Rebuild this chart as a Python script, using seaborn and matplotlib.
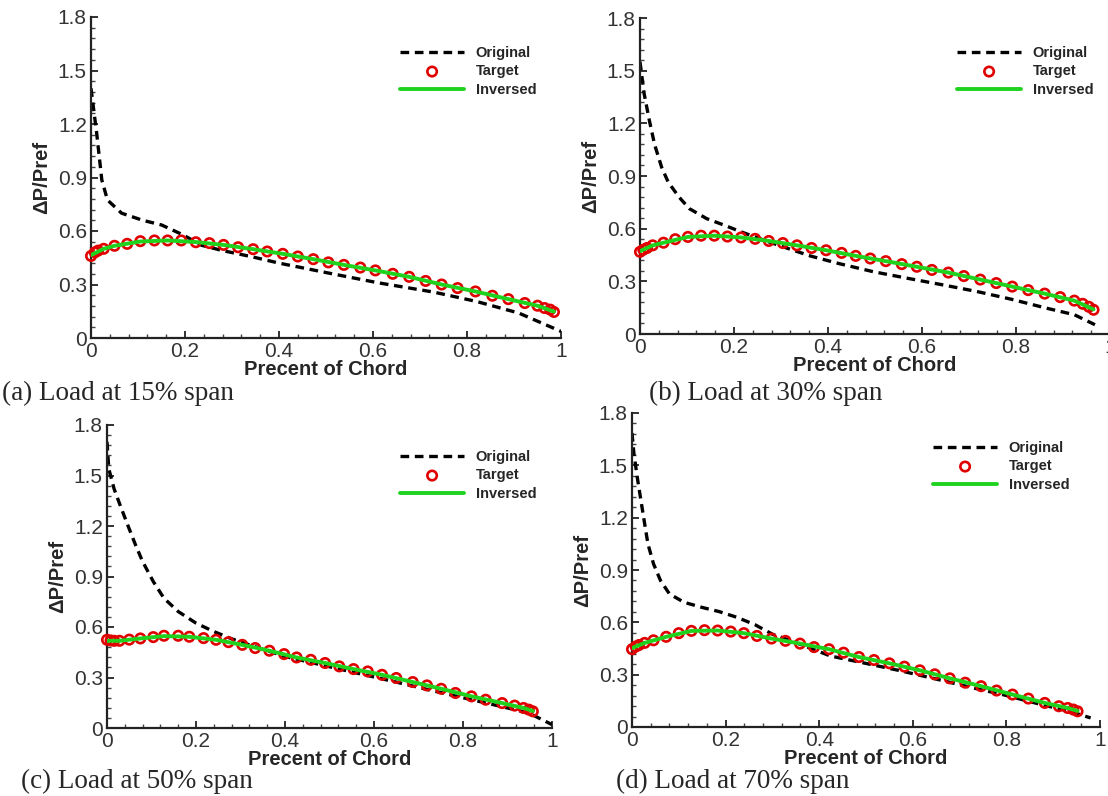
import numpy as np
import pandas as pd
import matplotlib
matplotlib.use("Agg")
import matplotlib.pyplot as plt
import seaborn as sns
from matplotlib.ticker import MultipleLocator, FixedLocator

sns.set_theme(style="ticks")
plt.rcParams['font.family'] = ['Liberation Sans', 'DejaVu Sans']

# ---------------- data ----------------
captions = ["(a) Load at 15% span", "(b) Load at 30% span",
            "(c) Load at 50% span", "(d) Load at 70% span"]
series_names = ["Original", "Target", "Inversed"]
x_ticks = [0, 0.2, 0.4, 0.6, 0.8, 1]
x_tick_labels = ["0", "0.2", "0.4", "0.6", "0.8", "1"]
y_ticks = [0, 0.3, 0.6, 0.9, 1.2, 1.5, 1.8]
y_tick_labels = ["0", "0.3", "0.6", "0.9", "1.2", "1.5", "1.8"]

# (a) 15% span
orig_a_x = [0.0, 0.012, 0.023, 0.035, 0.065, 0.11, 0.15, 0.196, 0.235, 0.28, 0.34, 0.40,
            0.50, 0.61, 0.73, 0.82, 0.91, 1.0]
orig_a_y = [1.40, 1.15, 0.886, 0.774, 0.70, 0.66, 0.634, 0.578, 0.52, 0.49, 0.457, 0.42,
            0.367, 0.31, 0.257, 0.205, 0.14, 0.037]
tgt_a_x = [0.0, 0.008, 0.015, 0.027, 0.05, 0.077, 0.105, 0.135, 0.163, 0.192, 0.223, 0.252,
           0.282, 0.313, 0.345, 0.375, 0.408, 0.44, 0.473, 0.505, 0.538, 0.573, 0.605, 0.642,
           0.677, 0.712, 0.746, 0.78, 0.818, 0.854, 0.888, 0.923, 0.950, 0.965, 0.977, 0.985]
tgt_a_y = [0.46, 0.48, 0.49, 0.50, 0.517, 0.528, 0.543, 0.547, 0.547, 0.547, 0.537, 0.532,
           0.522, 0.509, 0.498, 0.485, 0.472, 0.457, 0.442, 0.424, 0.41, 0.395, 0.379, 0.36,
           0.343, 0.32, 0.30, 0.28, 0.261, 0.237, 0.218, 0.196, 0.181, 0.168, 0.159, 0.146]
inv_a_x = [0.0, 0.027, 0.05, 0.105, 0.163, 0.223, 0.282, 0.345, 0.408, 0.473, 0.538, 0.605,
           0.677, 0.746, 0.818, 0.888, 0.950, 0.985]
inv_a_y = [0.465, 0.50, 0.517, 0.541, 0.547, 0.538, 0.522, 0.498, 0.472, 0.442, 0.41, 0.379,
           0.343, 0.30, 0.261, 0.218, 0.181, 0.148]

# (b) 30% span
orig_b_x = [0.0, 0.009, 0.02, 0.031, 0.046, 0.06, 0.083, 0.105, 0.142, 0.179, 0.215, 0.26,
            0.304, 0.363, 0.422, 0.496, 0.57, 0.644, 0.717, 0.79, 0.865, 0.924, 0.968]
orig_b_y = [1.55, 1.366, 1.215, 1.08, 0.95, 0.865, 0.78, 0.714, 0.657, 0.62, 0.582, 0.538,
            0.497, 0.444, 0.402, 0.355, 0.317, 0.28, 0.242, 0.198, 0.147, 0.11, 0.053]
tgt_b_x = [0.0, 0.007, 0.015, 0.027, 0.05, 0.075, 0.102, 0.13, 0.158, 0.186, 0.215, 0.245,
           0.274, 0.304, 0.334, 0.365, 0.396, 0.429, 0.459, 0.49, 0.523, 0.557, 0.589, 0.621,
           0.656, 0.689, 0.724, 0.758, 0.792, 0.826, 0.861, 0.894, 0.924, 0.942, 0.955, 0.965]
tgt_b_y = [0.468, 0.48, 0.49, 0.505, 0.52, 0.54, 0.553, 0.56, 0.56, 0.555, 0.55, 0.542,
           0.53, 0.518, 0.505, 0.49, 0.477, 0.462, 0.445, 0.43, 0.415, 0.398, 0.383, 0.365,
           0.35, 0.33, 0.31, 0.29, 0.27, 0.25, 0.23, 0.21, 0.19, 0.172, 0.155, 0.138]
inv_b_x = [0.0, 0.027, 0.05, 0.102, 0.158, 0.215, 0.274, 0.334, 0.396, 0.459, 0.523, 0.589,
           0.656, 0.724, 0.792, 0.861, 0.924, 0.965]
inv_b_y = [0.472, 0.505, 0.52, 0.553, 0.56, 0.55, 0.53, 0.505, 0.477, 0.445, 0.415, 0.383,
           0.35, 0.31, 0.27, 0.23, 0.19, 0.14]

# (c) 50% span
orig_c_x = [0.0, 0.004, 0.016, 0.032, 0.048, 0.064, 0.08, 0.104, 0.128, 0.16, 0.2, 0.24,
            0.28, 0.32, 0.40, 0.48, 0.562, 0.643, 0.723, 0.803, 0.884, 0.948, 1.0]
orig_c_y = [1.70, 1.54, 1.42, 1.306, 1.196, 1.088, 0.989, 0.87, 0.771, 0.692, 0.623, 0.573,
            0.53, 0.494, 0.425, 0.376, 0.326, 0.277, 0.227, 0.178, 0.129, 0.089, 0.02]
tgt_c_x = [0.0, 0.008, 0.016, 0.028, 0.05, 0.075, 0.104, 0.128, 0.16, 0.185, 0.217, 0.245,
           0.273, 0.304, 0.333, 0.365, 0.398, 0.426, 0.458, 0.49, 0.522, 0.554, 0.586, 0.618,
           0.65, 0.687, 0.719, 0.751, 0.783, 0.819, 0.851, 0.888, 0.916, 0.936, 0.948, 0.957]
tgt_c_y = [0.524, 0.52, 0.518, 0.518, 0.525, 0.532, 0.54, 0.548, 0.548, 0.542, 0.534, 0.524,
           0.51, 0.494, 0.475, 0.459, 0.439, 0.419, 0.405, 0.386, 0.366, 0.35, 0.336, 0.316,
           0.297, 0.273, 0.253, 0.233, 0.208, 0.188, 0.168, 0.148, 0.133, 0.119, 0.109, 0.099]
inv_c_x = [0.0, 0.028, 0.075, 0.128, 0.185, 0.245, 0.304, 0.365, 0.426, 0.49, 0.554, 0.618,
           0.687, 0.751, 0.819, 0.888, 0.936, 0.957]
inv_c_y = [0.518, 0.518, 0.532, 0.546, 0.542, 0.524, 0.494, 0.459, 0.419, 0.386, 0.35, 0.316,
           0.273, 0.233, 0.188, 0.148, 0.119, 0.101]

# (d) 70% span
orig_d_x = [0.0, 0.004, 0.011, 0.019, 0.027, 0.034, 0.046, 0.061, 0.08, 0.111, 0.149, 0.187,
            0.225, 0.263, 0.30, 0.34, 0.378, 0.424, 0.492, 0.569, 0.645, 0.721, 0.798,
            0.874, 0.935, 0.98]
orig_d_y = [1.685, 1.57, 1.435, 1.30, 1.166, 1.05, 0.935, 0.839, 0.763, 0.715, 0.686, 0.661,
            0.628, 0.586, 0.532, 0.494, 0.455, 0.407, 0.369, 0.325, 0.278, 0.229, 0.182,
            0.129, 0.09, 0.052]
tgt_d_x = [0.0, 0.008, 0.015, 0.027, 0.046, 0.073, 0.1, 0.127, 0.155, 0.183, 0.211, 0.239,
           0.267, 0.298, 0.328, 0.359, 0.389, 0.421, 0.452, 0.485, 0.517, 0.55, 0.582, 0.615,
           0.647, 0.679, 0.712, 0.746, 0.779, 0.813, 0.847, 0.882, 0.912, 0.931, 0.943, 0.952]
tgt_d_y = [0.446, 0.461, 0.47, 0.482, 0.497, 0.517, 0.538, 0.551, 0.555, 0.553, 0.547, 0.538,
           0.522, 0.507, 0.494, 0.478, 0.458, 0.446, 0.426, 0.401, 0.384, 0.365, 0.346, 0.325,
           0.302, 0.279, 0.254, 0.234, 0.209, 0.186, 0.163, 0.138, 0.119, 0.109, 0.10, 0.09]
inv_d_x = [0.0, 0.027, 0.073, 0.127, 0.183, 0.239, 0.298, 0.359, 0.421, 0.485, 0.55, 0.615,
           0.679, 0.746, 0.813, 0.882, 0.931, 0.952]
inv_d_y = [0.452, 0.482, 0.517, 0.551, 0.553, 0.538, 0.507, 0.478, 0.446, 0.401, 0.365, 0.325,
           0.279, 0.234, 0.186, 0.138, 0.109, 0.092]

panels = [
    (orig_a_x, orig_a_y, tgt_a_x, tgt_a_y, inv_a_x, inv_a_y),
    (orig_b_x, orig_b_y, tgt_b_x, tgt_b_y, inv_b_x, inv_b_y),
    (orig_c_x, orig_c_y, tgt_c_x, tgt_c_y, inv_c_x, inv_c_y),
    (orig_d_x, orig_d_y, tgt_d_x, tgt_d_y, inv_d_x, inv_d_y),
]

# ---------------- layout (pixels) ----------------
W, H = 1108, 796
# left, right, top, bottom of each axes in pixels
boxes = [(91, 561, 17, 338), (640, 1110, 18, 334), (107, 552, 425, 728), (632, 1100, 413, 727)]
# legend anchor (upper left of handle area) in pixels
legend_pos = [(400, 46), (957, 46), (400, 450), (933, 441)]
caption_pos = [(2, 393), (649, 393), (21, 781), (616, 781)]

fig = plt.figure(figsize=(W / 100, H / 100), dpi=100)

GREEN = "#1ed21e"
RED = "#e00000"

for i, (ox, oy, tx, ty, ix, iy) in enumerate(panels):
    l, r, t, b = boxes[i]
    ax = fig.add_axes([l / W, 1 - b / H, (r - l) / W, (b - t) / H])
    df_o = pd.DataFrame({"x": ox, "y": oy})
    df_t = pd.DataFrame({"x": tx, "y": ty})
    df_i = pd.DataFrame({"x": ix, "y": iy})
    sns.lineplot(data=df_o, x="x", y="y", ax=ax, color="black", lw=2.4,
                 linestyle=(0, (2.6, 1.7)), sort=False, estimator=None,
                 label=series_names[0], zorder=2)
    sns.scatterplot(data=df_t, x="x", y="y", ax=ax, marker="o", s=46,
                    facecolors="none", edgecolor=RED, linewidth=1.9,
                    label=series_names[1], zorder=3, clip_on=False)
    sns.lineplot(data=df_i, x="x", y="y", ax=ax, color=GREEN, lw=2.8,
                 sort=False, estimator=None, label=series_names[2], zorder=4)

    ax.set_xlim(0, 1)
    ax.set_ylim(0, 1.8)
    ax.xaxis.set_major_locator(FixedLocator(x_ticks))
    ax.set_xticklabels(x_tick_labels)
    ax.yaxis.set_major_locator(FixedLocator(y_ticks))
    ax.set_yticklabels(y_tick_labels)
    ax.xaxis.set_minor_locator(MultipleLocator(0.04))
    ax.yaxis.set_minor_locator(MultipleLocator(0.06))
    ax.tick_params(which="major", direction="in", length=5, width=1.3,
                   labelsize=15, color="#222222", pad=3, labelcolor="#333333")
    ax.tick_params(which="minor", direction="in", length=3, width=1.0, color="#444444")
    for side in ("top", "right"):
        ax.spines[side].set_visible(False)
    for side in ("left", "bottom"):
        ax.spines[side].set_linewidth(1.6)
        ax.spines[side].set_color("#222222")
    ax.set_xlabel("Precent of Chord", fontsize=14.5, fontweight="bold", labelpad=-1)
    ax.set_ylabel("\u0394P/Pref", fontsize=14.5, fontweight="bold", labelpad=5)

    lx, ly = legend_pos[i]
    leg = ax.legend(loc="upper left",
                    bbox_to_anchor=((lx - l) / (r - l), 1 - (ly - t) / (b - t)),
                    frameon=False, handlelength=4.4, handletextpad=0.8,
                    labelspacing=0.3, borderaxespad=0, borderpad=0,
                    prop={"weight": "bold", "size": 10.5})
    cx, cy = caption_pos[i]
    fig.text(cx / W, 1 - cy / H, captions[i], fontsize=19.5,
             family=["Liberation Serif", "DejaVu Serif"], va="center", ha="left")

fig.savefig("out.png", dpi=100)
